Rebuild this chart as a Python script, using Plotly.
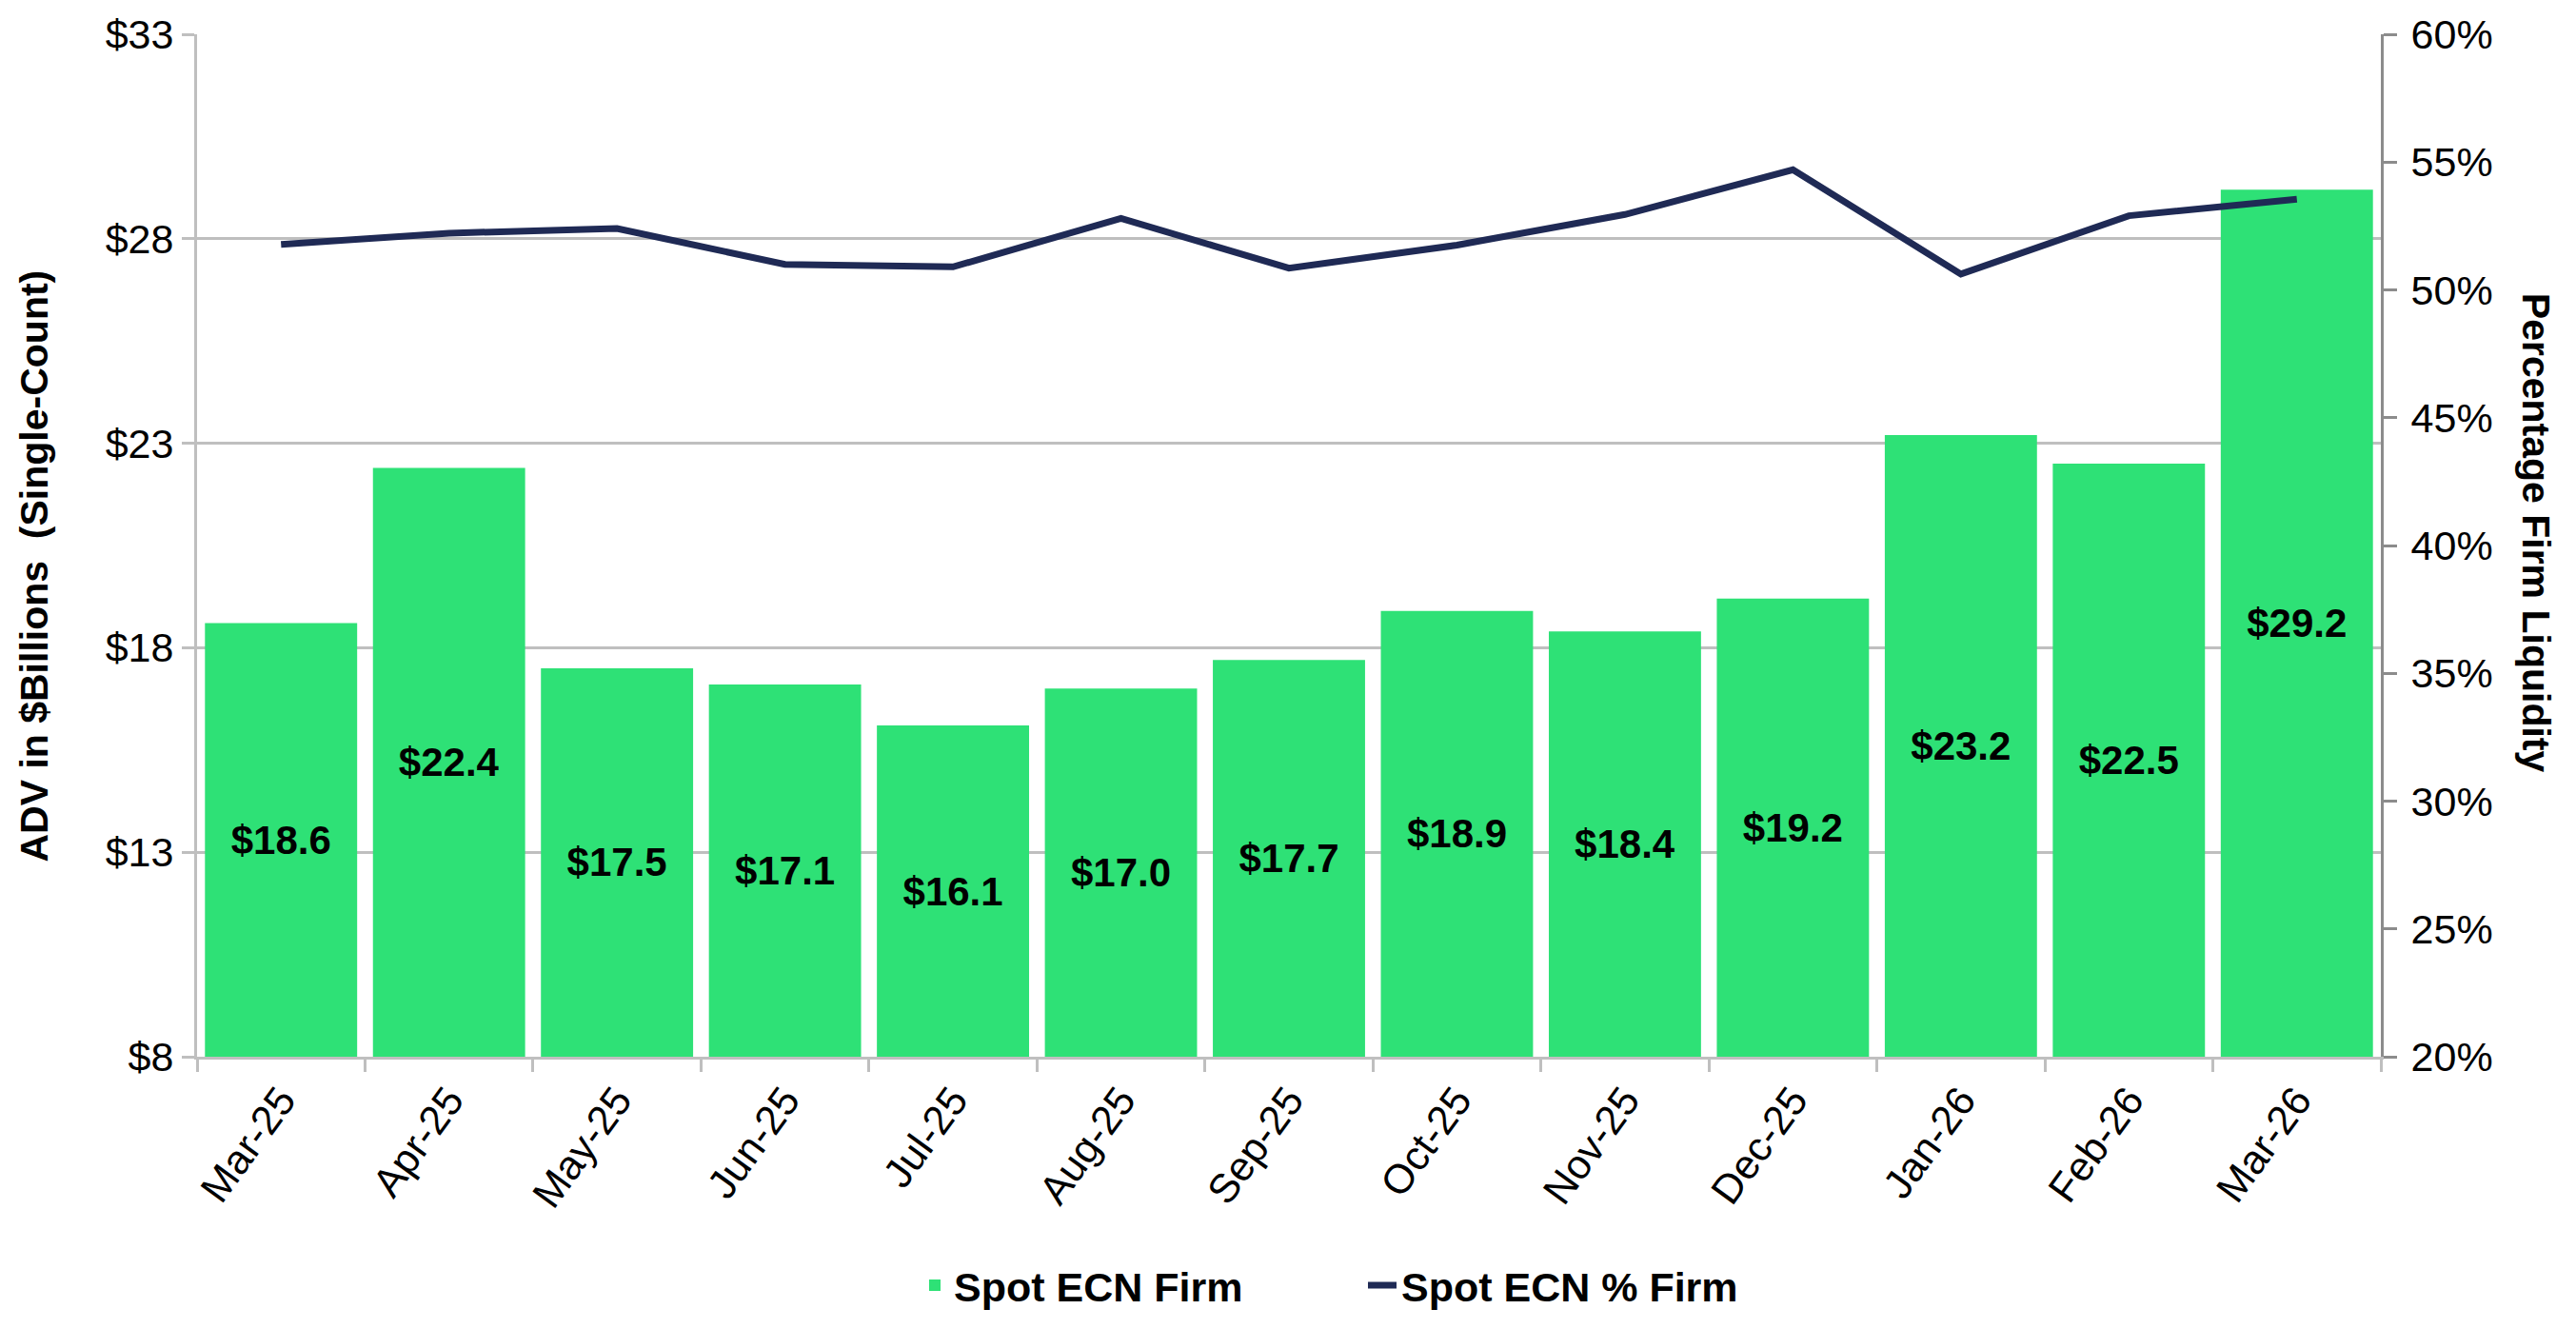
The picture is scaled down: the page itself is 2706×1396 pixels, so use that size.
import plotly.graph_objects as go

months = ["Mar-25", "Apr-25", "May-25", "Jun-25", "Jul-25", "Aug-25", "Sep-25",
          "Oct-25", "Nov-25", "Dec-25", "Jan-26", "Feb-26", "Mar-26"]
adv_firm = [18.6, 22.4, 17.5, 17.1, 16.1, 17.0, 17.7, 18.9, 18.4, 19.2, 23.2, 22.5, 29.2]
pct_firm = [0.5178, 0.5222, 0.524, 0.510, 0.509, 0.528, 0.5085, 0.5175, 0.5295, 0.547, 0.5062, 0.529, 0.5355]
bar_labels = ["$" + f"{v:.1f}" for v in adv_firm]

axis_floor = 8  # bars start at the bottom of the left axis, as in the source chart
bar_heights = [v - axis_floor for v in adv_firm]

FONT = "Liberation Sans, Arial, sans-serif"
GREEN = "#2ee176"
NAVY = "#1f2a55"
GRID = "#bfbfbf"

fig = go.Figure()
fig.add_trace(go.Bar(
    x=months, y=bar_heights, base=axis_floor, name="Spot ECN Firm",
    marker=dict(color=GREEN, line=dict(width=0)),
    text=bar_labels, textposition="inside", insidetextanchor="middle",
    textangle=0, constraintext="none",
    textfont=dict(family=FONT, size=42, color="black", weight="bold"),
    yaxis="y",
))
fig.add_trace(go.Scatter(
    x=months, y=pct_firm, name="Spot ECN % Firm", mode="lines",
    line=dict(color=NAVY, width=7), yaxis="y2",
))

fig.update_layout(
    width=2706, height=1396,
    margin=dict(l=207, r=205, t=25, b=286),
    paper_bgcolor="white", plot_bgcolor="white",
    font=dict(family=FONT, size=42, color="black"),
    bargap=0.094,
    showlegend=True,
    legend=dict(orientation="h", x=0.534, xanchor="center", y=-0.2234, yanchor="middle",
                font=dict(family=FONT, size=43, color="black", weight="bold"),
                entrywidth=425, entrywidthmode="pixels", traceorder="normal"),
    xaxis=dict(
        type="category", tickangle=-54, tickson="boundaries",
        ticks="outside", ticklen=13, tickwidth=3, tickcolor=GRID,
        showline=True, linecolor=GRID, linewidth=3,
        tickfont=dict(family=FONT, size=43, color="black"),
        showgrid=False,
    ),
    yaxis=dict(
        range=[8, 33], tick0=8, dtick=5, tickprefix="$",
        ticks="outside", ticklen=13, tickwidth=3, tickcolor=GRID,
        showline=True, linecolor=GRID, linewidth=3,
        showgrid=True, gridcolor=GRID, gridwidth=3,
        zeroline=False,
        tickfont=dict(family=FONT, size=43, color="black"),
    ),
    yaxis2=dict(
        range=[0.2, 0.6], tick0=0.2, dtick=0.05, tickformat=".0%",
        overlaying="y", side="right",
        ticks="outside", ticklen=14, tickwidth=3, tickcolor="#8c8c8c",
        showline=True, linecolor="#8c8c8c", linewidth=3,
        showgrid=False, zeroline=False, ticklabelstandoff=6,
        tickfont=dict(family=FONT, size=43, color="black"),
    ),
    annotations=[
        dict(text="ADV in $Billions  (Single-Count)", xref="paper", yref="paper",
             x=-0.0745, y=0.48, xanchor="center", yanchor="middle", textangle=-90,
             showarrow=False, font=dict(family=FONT, size=41, color="black", weight="bold")),
        dict(text="Percentage Firm Liquidity", xref="paper", yref="paper",
             x=1.0714, y=0.5125, xanchor="center", yanchor="middle", textangle=90,
             showarrow=False, font=dict(family=FONT, size=41, color="black", weight="bold")),
    ],
)

fig.write_html("out.html", config={"displayModeBar": False},
               post_script="document.body.style.margin='0';")
